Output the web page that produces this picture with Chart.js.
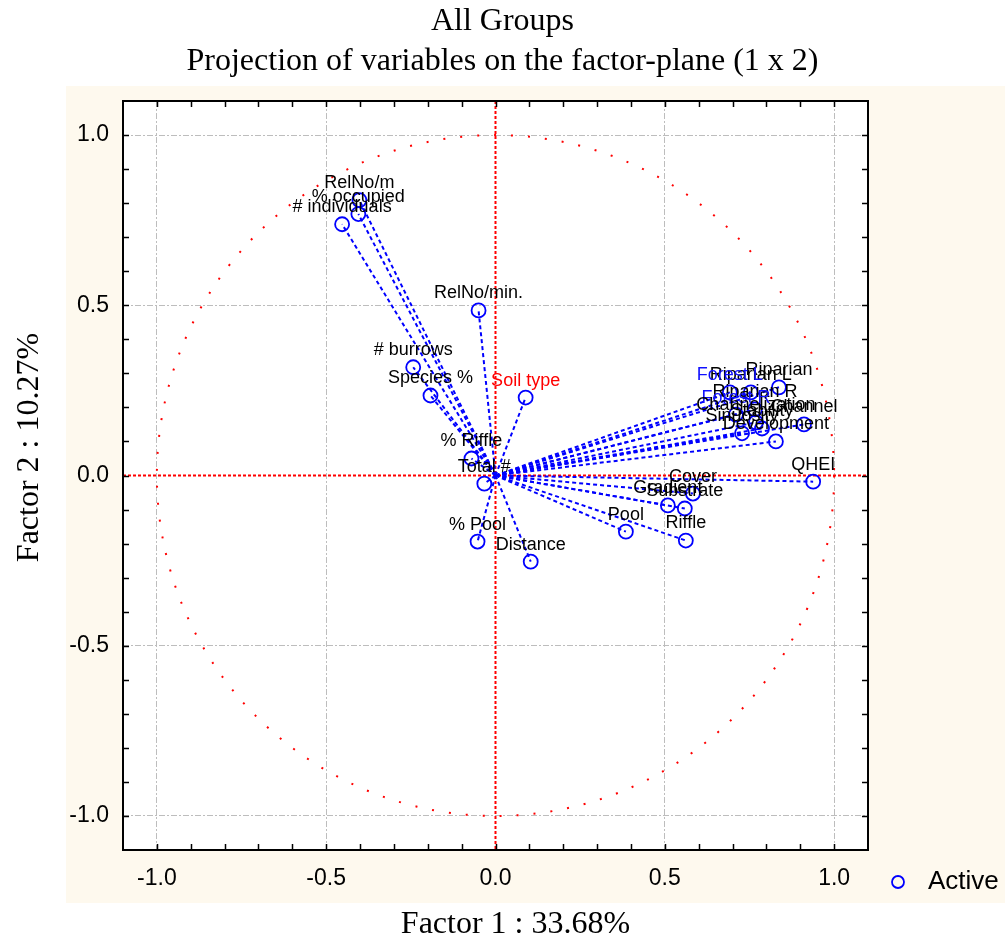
<!DOCTYPE html>
<html>
<head>
<meta charset="utf-8">
<title>All Groups</title>
<script src="https://cdn.jsdelivr.net/npm/chart.js@4.4.0/dist/chart.umd.min.js"></script>
<style>
    html, body { margin: 0; padding: 0; background: #ffffff; }
    #contenedor { width: 1005px; height: 942px; }
</style>
</head>
<body>
<div id="contenedor"><canvas id="grafico" width="1005" height="942"></canvas></div>
<script>
// Variables y sus coordenadas en el plano factorial (factor 1 x factor 2)
const variables = [
    '# individuals', '% occupied', 'RelNo/m', 'RelNo/min.', '# burrows', 'Species %',
    'Soil type', '% Riffle', 'Total #', '% Pool', 'Distance', 'Pool', 'Riffle',
    'Gradient', 'Substrate', 'Cover', 'QHEI', 'Riparian', 'Riparian L', 'Forest L',
    'Riparian R', 'Forest R', 'Channel', 'Channelization', 'Sinuosity', 'Stability',
    'Development'
];
const factor1 = [
    -0.453, -0.405, -0.402, -0.050, -0.243, -0.192,
    0.089, -0.071, -0.033, -0.053, 0.104, 0.385, 0.562,
    0.509, 0.559, 0.583, 0.938, 0.837, 0.754, 0.692,
    0.766, 0.710, 0.911, 0.769, 0.728, 0.787,
    0.828
];
const factor2 = [
    0.738, 0.768, 0.809, 0.485, 0.318, 0.235,
    0.229, 0.050, -0.024, -0.194, -0.253, -0.165, -0.191,
    -0.088, -0.097, -0.053, -0.018, 0.259, 0.244, 0.244,
    0.194, 0.179, 0.150, 0.156, 0.124, 0.138,
    0.100
];
const marcasEje = [-1.0, -0.5, 0.0, 0.5, 1.0];

const titulo = ['All Groups', 'Projection of variables on the factor-plane (1 x 2)'];
const tituloX = 'Factor 1 : 33.68%';
const tituloY = 'Factor 2 : 10.27%';
const textoLeyenda = 'Active';

// colores de las etiquetas que no van en negro
const coloresEtiqueta = { 'Soil type': '#ff0000', 'Forest L': '#1010ff', 'Forest R': '#1010ff' };

const AZUL = '#0000ff';
const ROJO = '#ff0000';
const SERIF = '"Liberation Serif", "Times New Roman", serif';
const SANS = '"Liberation Sans", Arial, sans-serif';

function esMarcaMayor(v) {
    return marcasEje.some(m => Math.abs(m - v) < 1e-6);
}

// Fondo beige del gráfico y área de dibujo en blanco
const pluginFondo = {
    id: 'fondo',
    beforeDraw: (chart) => {
        const { ctx, chartArea: a } = chart;
        ctx.save();
        ctx.fillStyle = '#fef9ee';
        ctx.fillRect(a.left - 57, a.top - 15, chart.width - (a.left - 57), (a.bottom + 53) - (a.top - 15));
        ctx.fillStyle = '#ffffff';
        ctx.fillRect(a.left, a.top, a.right - a.left, a.bottom - a.top);

        // título en dos líneas, centrado en todo el lienzo
        ctx.fillStyle = '#000000';
        ctx.font = '32px ' + SERIF;
        ctx.textAlign = 'center';
        ctx.textBaseline = 'middle';
        titulo.forEach((linea, i) => ctx.fillText(linea, chart.width / 2, 22 + i * 40));
        ctx.restore();
    }
};

// Círculo unidad y ejes en rojo punteado
const pluginCirculo = {
    id: 'circulo',
    beforeDatasetsDraw: (chart) => {
        const { ctx, chartArea: a } = chart;
        const sx = chart.scales.x, sy = chart.scales.y;
        const cx = sx.getPixelForValue(0), cy = sy.getPixelForValue(0);
        const rx = sx.getPixelForValue(1) - cx, ry = cy - sy.getPixelForValue(1);
        ctx.save();
        ctx.strokeStyle = ROJO;
        ctx.lineWidth = 2;
        ctx.setLineDash([2, 15]);
        ctx.beginPath();
        ctx.ellipse(cx, cy, rx, ry, 0, 0, Math.PI * 2);
        ctx.stroke();

        ctx.setLineDash([3, 2]);
        ctx.beginPath();
        ctx.moveTo(a.left, cy);
        ctx.lineTo(a.right, cy);
        ctx.moveTo(cx, a.top);
        ctx.lineTo(cx, a.bottom);
        ctx.stroke();
        ctx.restore();
    }
};

// Nombres de las variables encima de cada punto
const pluginEtiquetas = {
    id: 'etiquetas',
    afterDatasetsDraw: (chart) => {
        const { ctx } = chart;
        const meta = chart.getDatasetMeta(0);
        ctx.save();
        ctx.font = '18px ' + SANS;
        ctx.textAlign = 'center';
        ctx.textBaseline = 'middle';
        meta.data.forEach((p, i) => {
            ctx.fillStyle = coloresEtiqueta[variables[i]] || '#000000';
            ctx.fillText(variables[i], p.x, p.y - 17);
        });
        ctx.restore();
    }
};

// Marco, marcas hacia dentro, títulos de ejes y leyenda
const pluginMarco = {
    id: 'marco',
    afterDraw: (chart) => {
        const { ctx, chartArea: a } = chart;
        const sx = chart.scales.x, sy = chart.scales.y;
        ctx.save();
        ctx.strokeStyle = '#000000';
        ctx.lineWidth = 1.5;
        ctx.beginPath();
        sx.ticks.forEach(t => {
            const px = Math.round(sx.getPixelForValue(t.value)) + 0.5;
            if (px <= a.left + 2 || px >= a.right - 2) return;
            ctx.moveTo(px, a.bottom); ctx.lineTo(px, a.bottom - 6);
            ctx.moveTo(px, a.top); ctx.lineTo(px, a.top + 6);
        });
        sy.ticks.forEach(t => {
            const py = Math.round(sy.getPixelForValue(t.value)) + 0.5;
            if (py <= a.top + 2 || py >= a.bottom - 2) return;
            ctx.moveTo(a.left, py); ctx.lineTo(a.left + 6, py);
            ctx.moveTo(a.right, py); ctx.lineTo(a.right - 6, py);
        });
        ctx.stroke();

        ctx.lineWidth = 2;
        ctx.strokeRect(a.left, a.top, a.right - a.left, a.bottom - a.top);

        // títulos de los ejes
        ctx.fillStyle = '#000000';
        ctx.font = '32px ' + SERIF;
        ctx.textAlign = 'center';
        ctx.textBaseline = 'middle';
        ctx.fillText(tituloX, a.left + (a.right - a.left) / 2 + 20, a.bottom + 75);
        ctx.save();
        ctx.translate(a.left - 93, a.top + (a.bottom - a.top) / 2 - 28);
        ctx.rotate(-Math.PI / 2);
        ctx.fillText(tituloY, 0, 0);
        ctx.restore();

        // leyenda
        const ly = a.bottom + 32;
        ctx.strokeStyle = AZUL;
        ctx.lineWidth = 1.8;
        ctx.beginPath();
        ctx.arc(a.right + 30, ly, 6, 0, Math.PI * 2);
        ctx.stroke();
        ctx.font = '26px ' + SANS;
        ctx.textAlign = 'left';
        ctx.fillText(textoLeyenda, a.right + 60, ly);
        ctx.restore();
    }
};

const puntos = variables.map((v, i) => ({ x: factor1[i], y: factor2[i] }));

// una línea discontinua desde el origen hasta cada variable
const lineas = puntos.map(p => ({
    type: 'line',
    data: [{ x: 0, y: 0 }, p],
    borderColor: AZUL,
    borderWidth: 2,
    borderDash: [4, 3],
    pointRadius: 0,
    fill: false,
    tension: 0
}));

const opcionesEje = (esX) => ({
    type: 'linear',
    min: -1.1,
    max: 1.1,
    afterFit: (scale) => {
        if (esX) scale.height = 50; else scale.width = 123;
    },
    ticks: {
        stepSize: 0.1,
        autoSkip: false,
        maxRotation: 0,
        padding: esX ? 15 : 14,
        color: '#000000',
        font: { family: SANS, size: 23 },
        callback: (v) => esMarcaMayor(v) ? (Math.abs(v) < 1e-9 ? 0 : v).toFixed(1) : ''
    },
    grid: {
        drawTicks: false,
        lineWidth: 1,
        color: (c) => (c.tick && esMarcaMayor(c.tick.value) && Math.abs(c.tick.value) > 1e-6) ? '#bdbdbd' : 'rgba(0,0,0,0)'
    },
    border: { display: false, dash: [6, 2, 2, 2] }
});

new Chart(document.getElementById('grafico').getContext('2d'), {
    type: 'scatter',
    data: {
        datasets: [{
            label: textoLeyenda,
            data: puntos,
            pointStyle: 'circle',
            pointRadius: 7,
            pointBorderWidth: 1.8,
            borderColor: AZUL,
            backgroundColor: 'rgba(0,0,0,0)'
        }, ...lineas]
    },
    options: {
        responsive: false,
        animation: false,
        layout: { padding: { left: 0, top: 101, right: 137, bottom: 42 } },
        scales: { x: opcionesEje(true), y: opcionesEje(false) },
        plugins: {
            legend: { display: false },
            tooltip: { enabled: false },
            title: { display: false }
        }
    },
    plugins: [pluginFondo, pluginCirculo, pluginEtiquetas, pluginMarco]
});
</script>
</body>
</html>
